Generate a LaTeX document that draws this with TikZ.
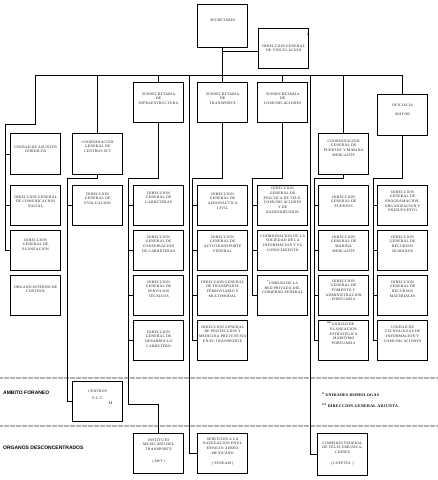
\documentclass[tikz,border=0pt]{standalone}
\usepackage{fontspec}
\newfontfamily\bxf[LetterSpace=7]{Liberation Serif}
\newfontfamily\labf{Liberation Sans}
\newcommand\tb[3][40pt]{\parbox[c][#1][t]{50pt}{\centering\vspace*{#2}#3\par}}
\tikzset{
  box/.style={draw=black, line width=1.3pt, anchor=north west, inner sep=0pt,
    text=black!90, font={\bxf\fontsize{3.75}{4.7}\selectfont}},
  ln/.style={line width=0.85pt, black},
  sepline/.style={line width=1.2pt, gray!60, dash pattern=on 0.7pt off 0.5pt},
  lab/.style={anchor=west, inner sep=0pt, font={\labf\bfseries\fontsize{5}{6}\selectfont}},
  leg/.style={anchor=west, inner sep=0pt, font={\bxf\bfseries\fontsize{4}{5}\selectfont}}
}
\begin{document}
\begin{tikzpicture}[x=1pt,y=-1pt]
\useasboundingbox (0,0) rectangle (438,480);
% top
\node[box] (sec) at (197,4) {\tb[43pt]{14pt}{SECRETARIO}};
\node[box] (vin) at (258,28) {\tb{3pt}{\null\hspace{0pt plus 1fill}{\bfseries *}\hspace*{4pt}\\[6pt]DIRECCION GENERAL\\DE VINCULACION}};
% subsecretarias
\node[box] (inf) at (133,82) {\tb{10pt}{SUBSECRETARIA\\DE\\INFRAESTRUCTURA}};
\node[box] (tra) at (197,82) {\tb{10pt}{SUBSECRETARIA\\DE\\TRANSPORTE}};
\node[box] (com) at (257,82) {\tb{10pt}{SUBSECRETARIA\\DE\\COMUNICACIONES}};
\node[box] (ofi) at (377,94) {\tb[41pt]{9pt}{OFICIALIA\\[5pt]MAYOR}};
% row 0
\node[box] (uaj) at (10,133) {\tb[41pt]{12pt}{UNIDAD DE ASUNTOS\\JURIDICOS}};
\node[box] (ccs) at (72,133) {\tb[41pt]{7pt}{COORDINACION\\GENERAL DE\\CENTROS SCT}};
\node[box] (cpm) at (318,133) {\tb[41pt]{6pt}{COORDINACION\\GENERAL DE\\PUERTOS Y MARINA\\MERCANTE}};
% column A
\node[box] (cs) at (10,185) {\tb{10pt}{DIRECCION GENERAL\\DE COMUNICACION\\SOCIAL}};
\node[box] (pla) at (10,230) {\tb{8pt}{DIRECCION\\GENERAL DE\\PLANEACION}};
\node[box] (oic) at (10,275) {\tb{10pt}{ORGANO INTERNO DE\\CONTROL}};
% column B
\node[box] (eva) at (72,185) {\tb{7pt}{DIRECCION\\GENERAL DE\\EVALUACION}};
% column C
\node[box] (c1) at (133,185) {\tb{6pt}{DIRECCION\\GENERAL DE\\CARRETERAS}};
\node[box] (c2) at (133,230) {\tb{5pt}{DIRECCION\\GENERAL DE\\CONSERVACION\\DE CARRETERAS}};
\node[box] (c3) at (133,275) {\tb{5pt}{DIRECCION\\GENERAL DE\\SERVICIOS\\TECNICOS}};
\node[box] (c4) at (133,320) {\tb{10pt}{DIRECCION\\GENERAL DE\\DESARROLLO\\CARRETERO}};
% column D
\node[box] (d1) at (197,185) {\tb{7pt}{DIRECCION\\GENERAL DE\\AERONAUTICA\\CIVIL}};
\node[box] (d2) at (197,230) {\tb{5pt}{DIRECCION\\GENERAL DE\\AUTOTRANSPORTE\\FEDERAL}};
\node[box] (d3) at (197,275) {\tb{5pt}{DIRECCION GENERAL\\DE TRANSPORTE\\FERROVIARIO Y\\MULTIMODAL}};
\node[box] (d4) at (197,320) {\tb{5pt}{DIRECCION GENERAL\\DE PROTECCION Y\\MEDICINA PREVENTIVA\\EN EL TRANSPORTE}};
% column E
\node[box] (e1) at (257,185) {\tb{1.5pt}{DIRECCION\\GENERAL DE\\POLITICA DE TELE-\\COMUNICACIONES\\Y DE\\RADIODIFUSION}};
\node[box] (e2) at (257,230) {\tb{4pt}{COORDINACION DE LA\\SOCIEDAD DE LA\\INFORMACION Y EL\\CONOCIMIENTO}};
\node[box] (e3) at (257,275) {\tb{5pt}{\textsuperscript{\bfseries *}UNIDAD DE LA\\RED PRIVADA DEL\\GOBIERNO FEDERAL}};
% column F
\node[box] (f1) at (318,185) {\tb{10pt}{DIRECCION\\GENERAL DE\\PUERTOS}};
\node[box] (f2) at (318,230) {\tb{5pt}{DIRECCION\\GENERAL DE\\MARINA\\MERCANTE}};
\node[box] (f3) at (318,275) {\tb{4pt}{DIRECCION\\GENERAL DE\\FOMENTO Y\\ADMINISTRACION\\PORTUARIA}};
\node[box] (f4) at (318,320) {\tb{1pt}{\hspace*{-6pt}\raisebox{1.5pt}{\bfseries **}\,UNIDAD DE\\PLANEACION\\ESTRATEGICA\\MARITIMO\\PORTUARIA}};
% column G
\node[box] (g1) at (377,185) {\tb{5pt}{DIRECCION\\GENERAL DE\\PROGRAMACION,\\ORGANIZACION Y\\PRESUPUESTO}};
\node[box] (g2) at (377,230) {\tb{5pt}{DIRECCION\\GENERAL DE\\RECURSOS\\HUMANOS}};
\node[box] (g3) at (377,275) {\tb{5pt}{DIRECCION\\GENERAL DE\\RECURSOS\\MATERIALES}};
\node[box] (g4) at (377,320) {\tb{5pt}{UNIDAD DE\\TECNOLOGIAS DE\\INFORMACION Y\\COMUNICACIONES}};
% bottom
\node[box] (cen) at (72,381) {\tb{8pt}{CENTROS\\[3pt]S.C.T.\\[-0.5pt]\hspace*{26pt}{\bfseries 31}}};
\node[box] (imt) at (133,433) {\tb{5pt}{INSTITUTO\\MEXICANO DEL\\TRANSPORTE\\[7pt]( IMT )}};
\node[box] (sen) at (197,433) {\tb{4pt}{SERVICIOS A LA\\NAVEGACION EN EL\\ESPACIO AEREO\\MEXICANO\\[6pt]( SENEAM )}};
\node[box] (cof) at (317,433) {\tb[42pt]{8pt}{COMISION FEDERAL\\DE TELECOMUNICA-\\CIONES\\[6pt](COFETEL )}};
% separators and labels
\draw[sepline] (0,378) -- (438,378);
\draw[sepline] (0,426) -- (438,426);
\node[lab] (af) at (3,393) {AMBITO FORANEO};
\node[lab] (od) at (3,448) {ORGANOS DESCONCENTRADOS};
\node[leg] (l1) at (322,395) {\raisebox{1pt}{*}\,\,UNIDADES HOMOLOGAS};
\node[leg] (l2) at (322,406) {\raisebox{1pt}{**}\,\,DIRECCION GENERAL ADJUNTA};
% junctions
\coordinate (jA) at (35,75);
\coordinate (lA) at (5,124);
\coordinate (jS) at (189,75);
\coordinate (jC) at (310,75);
\coordinate (kB) at (67,178);
\coordinate (kC) at (128,178);
\coordinate (kC2) at (128,404);
\coordinate (kD) at (192,178);
\coordinate (kE) at (252,178);
\coordinate (kF) at (314,178);
\coordinate (kG) at (373,178);
% top connectors
\draw[ln] (sec.south) -- (tra.north);
\draw[ln] (sec.south |- 0,51) -- (vin.west |- 0,51);
\draw[ln] (jA) -- (ofi.north |- jA);
\draw[ln] (ofi.north) -- (ofi.north |- jA);
\draw[ln] (inf.north) -- (inf.north |- jA);
\draw[ln] (com.north) -- (com.north |- jA);
\draw[ln] (ccs.north) -- (ccs.north |- jA);
\draw[ln] (cpm.north) -- (cpm.north |- jA);
\draw[ln] (jA) |- (lA) -- (lA |- pla.west) -- (pla.west);
\draw[ln] (lA |- uaj.west) -- (uaj.west);
\draw[ln] (lA |- cs.west) -- (cs.west);
\draw[ln] (jS) |- (sen.west);
\draw[ln] (jC) |- (cof.west);
% second level
\draw[ln] (ccs.south) |- (kB) -- (kB |- cen.west) -- (cen.west);
\draw[ln] (kB |- eva.west) -- (eva.west);
\draw[ln] (inf.south) |- (kC) -- (kC2) -| (imt.north);
\draw[ln] (kC |- c1.west) -- (c1.west);
\draw[ln] (kC |- c2.west) -- (c2.west);
\draw[ln] (kC |- c3.west) -- (c3.west);
\draw[ln] (kC |- c4.west) -- (c4.west);
\draw[ln] (tra.south) |- (kD) -- (kD |- d4.west) -- (d4.west);
\draw[ln] (kD |- d1.west) -- (d1.west);
\draw[ln] (kD |- d2.west) -- (d2.west);
\draw[ln] (kD |- d3.west) -- (d3.west);
\draw[ln] (com.south) |- (kE) -- (kE |- e3.west) -- (e3.west);
\draw[ln] (kE |- e1.west) -- (e1.west);
\draw[ln] (kE |- e2.west) -- (e2.west);
\draw[ln] (cpm.south) |- (kF) -- (kF |- f4.west) -- (f4.west);
\draw[ln] (kF |- f1.west) -- (f1.west);
\draw[ln] (kF |- f2.west) -- (f2.west);
\draw[ln] (kF |- f3.west) -- (f3.west);
\draw[ln] (ofi.south) |- (kG) -- (kG |- g4.west) -- (g4.west);
\draw[ln] (kG |- g1.west) -- (g1.west);
\draw[ln] (kG |- g2.west) -- (g2.west);
\draw[ln] (kG |- g3.west) -- (g3.west);
\end{tikzpicture}
\end{document}
